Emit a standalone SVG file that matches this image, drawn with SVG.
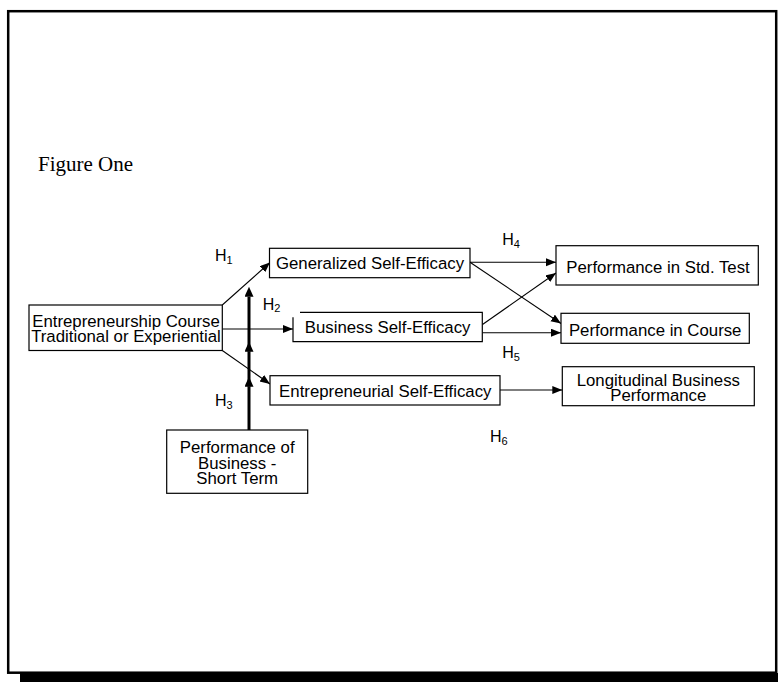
<svg xmlns="http://www.w3.org/2000/svg" width="778" height="682" viewBox="0 0 778 682">
<defs>
<style>
.box{fill:#fff;stroke:#000;stroke-width:1.2}
.t{font-family:"Liberation Sans",Arial,sans-serif;font-size:16.8px;fill:#000;text-anchor:middle}
.h{font-family:"Liberation Sans",Arial,sans-serif;font-size:16px;fill:#000}
.s{font-size:11px}
.c{stroke:#000;stroke-width:1.1;fill:none;marker-end:url(#a)}
.k{stroke:#000;stroke-width:3;fill:none;marker-end:url(#b)}
</style>
<marker id="a" markerUnits="userSpaceOnUse" markerWidth="12" markerHeight="10" refX="10" refY="4" orient="auto" viewBox="0 0 12 10">
<path d="M0,0 L10,4 L0,8 z" fill="#000"/>
</marker>
<marker id="b" markerUnits="userSpaceOnUse" markerWidth="12" markerHeight="10" refX="0" refY="4.5" orient="auto" viewBox="0 0 12 10">
<path d="M0,0 L10,4.5 L0,9 z" fill="#000"/>
</marker>
</defs>
<rect x="0" y="0" width="778" height="682" fill="#fff"/>
<rect x="20" y="673" width="760" height="12" fill="#000"/>
<rect x="8.2" y="11.2" width="768" height="661.5" fill="#fff" stroke="#000" stroke-width="2.5"/>
<text x="38" y="171" font-family="Liberation Serif,'Times New Roman',serif" font-size="21" fill="#000">Figure One</text>

<g id="connectors">
<line class="c" x1="222.3" y1="305" x2="270" y2="262.5"/>
<line class="c" x1="222.3" y1="329" x2="293" y2="329"/>
<line class="c" x1="222.3" y1="350.5" x2="270" y2="384"/>
<line class="c" x1="470" y1="262.3" x2="556" y2="262.3"/>
<line class="c" x1="470" y1="262.3" x2="561" y2="323.5"/>
<line class="c" x1="482.5" y1="324.5" x2="556" y2="273"/>
<line class="c" x1="482.3" y1="332.7" x2="561" y2="332.7"/>
<line class="c" x1="500" y1="390" x2="562.3" y2="390"/>
<line class="k" x1="249" y1="430" x2="249" y2="386.7"/>
<line class="k" x1="249" y1="386.7" x2="249" y2="351.7"/>
<line class="k" x1="249" y1="351.7" x2="249" y2="296.7"/>
</g>

<g id="labels">
<text class="h" x="215" y="261">H<tspan class="s" dy="2.5">1</tspan></text>
<text class="h" x="262.7" y="309.5">H<tspan class="s" dy="2.5">2</tspan></text>
<text class="h" x="215" y="406">H<tspan class="s" dy="2.5">3</tspan></text>
<text class="h" x="502.3" y="245">H<tspan class="s" dy="2.5">4</tspan></text>
<text class="h" x="502.3" y="358.3">H<tspan class="s" dy="2.5">5</tspan></text>
<text class="h" x="490" y="442">H<tspan class="s" dy="2.5">6</tspan></text>
</g>

<g id="n-course">
<rect class="box" x="29" y="305" width="193.3" height="45.5"/>
<text class="t" x="126" y="326.7">Entrepreneurship Course</text>
<text class="t" x="126" y="341.7">Traditional or Experiential</text>
</g>
<g id="n-general">
<rect class="box" x="269.5" y="248.3" width="200.5" height="29.4"/>
<text class="t" x="370" y="269.3">Generalized Self-Efficacy</text>
</g>
<g id="n-business">
<rect x="293" y="312.3" width="189.3" height="29.4" fill="#fff"/>
<path d="M300,312.3 H482.3 V341.7 H293 V317.3" fill="none" stroke="#000" stroke-width="1.2"/>
<text class="t" x="387.6" y="333.3">Business Self-Efficacy</text>
</g>
<g id="n-entre">
<rect class="box" x="270" y="375.7" width="230" height="29.3"/>
<text class="t" x="385.3" y="396.7">Entrepreneurial Self-Efficacy</text>
</g>
<g id="n-stdtest">
<rect class="box" x="556" y="245.7" width="202.3" height="39.3"/>
<text class="t" x="658" y="273.3">Performance in Std. Test</text>
</g>
<g id="n-perfcourse">
<rect class="box" x="561" y="313.3" width="188.3" height="30"/>
<text class="t" x="655.2" y="336">Performance in Course</text>
</g>
<g id="n-long">
<rect class="box" x="562.3" y="366.7" width="192" height="39"/>
<text class="t" x="658.3" y="385.7">Longitudinal Business</text>
<text class="t" x="658.3" y="401">Performance</text>
</g>
<g id="n-short">
<rect class="box" x="166.7" y="430" width="141" height="63.3"/>
<text class="t" x="237.2" y="453.3">Performance of</text>
<text class="t" x="237.2" y="468.6">Business -</text>
<text class="t" x="237.2" y="484.3">Short Term</text>
</g>
</svg>
